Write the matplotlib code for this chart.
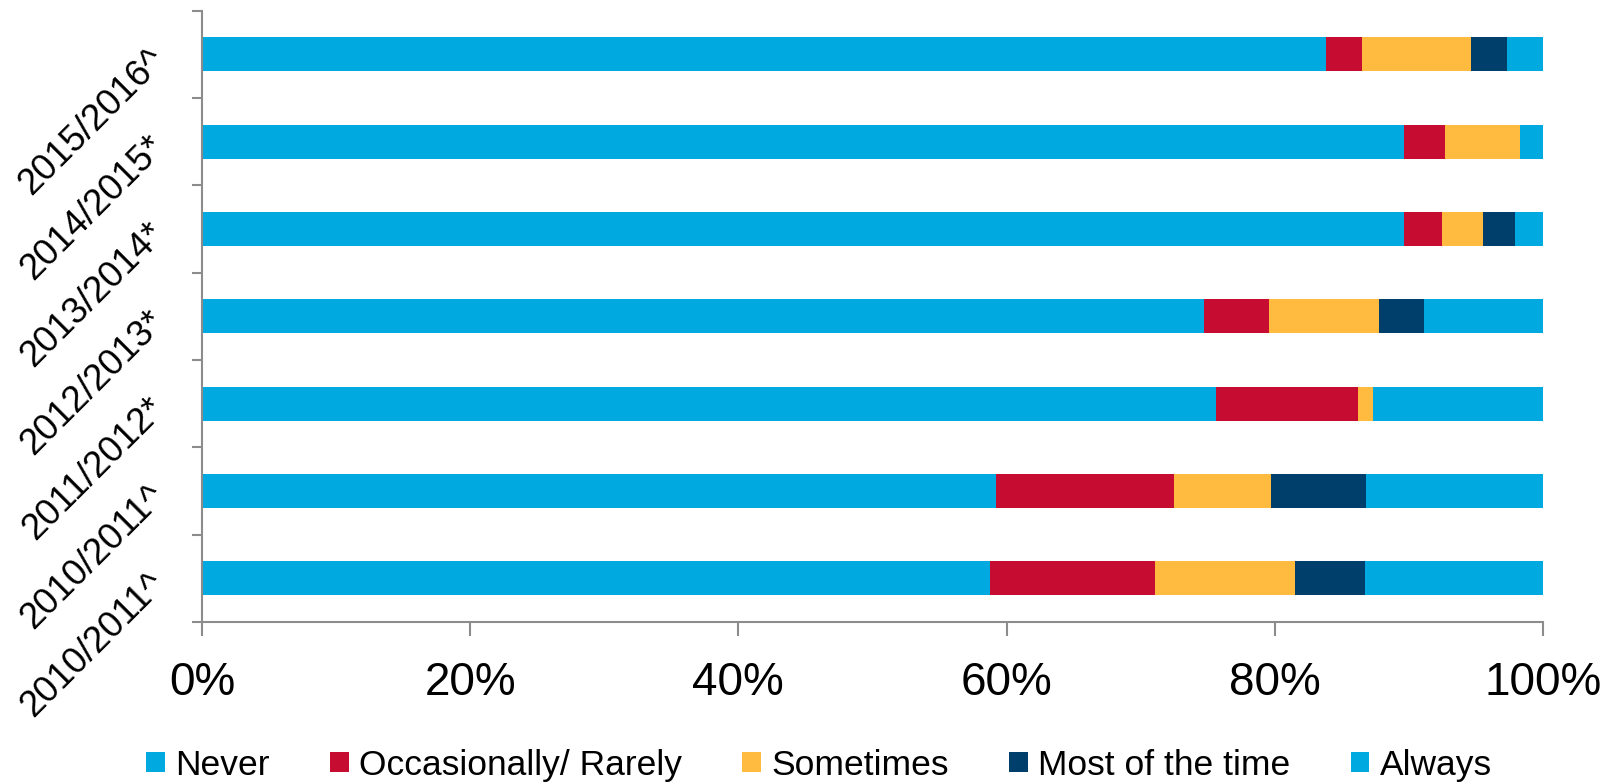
import matplotlib
matplotlib.use("Agg")
import matplotlib.pyplot as plt
from matplotlib.patches import Patch
import numpy as np

plt.rcParams['font.family'] = ['Liberation Sans', 'DejaVu Sans']

categories = ["2010/2011^", "2010/2011^", "2011/2012*", "2012/2013*",
              "2013/2014*", "2014/2015*", "2015/2016^"]
series_names = ["Never", "Occasionally/ Rarely", "Sometimes", "Most of the time", "Always"]
never      = [58.8, 59.2, 75.6, 74.7, 89.6, 89.6, 83.8]
occasional = [12.3, 13.3, 10.6, 4.9, 2.9, 3.1, 2.7]
sometimes  = [10.4, 7.2, 1.1, 8.2, 3.0, 5.6, 8.1]
most       = [5.2, 7.1, 0.0, 3.3, 2.4, 0.0, 2.7]
always     = [13.3, 13.2, 12.7, 8.9, 2.1, 1.7, 2.7]
xtick_values = [0, 20, 40, 60, 80, 100]
xtick_labels = ["0%", "20%", "40%", "60%", "80%", "100%"]

colors = ["#00A9E0", "#C60C30", "#FFBB40", "#003E6B", "#00A9E0"]

fig = plt.figure(figsize=(16.22, 7.84), dpi=100)
ax = fig.add_axes([0.1245, 0.2066, 0.8268, 0.7798])

y = np.arange(len(categories))
left = np.zeros(len(categories))
handles = []
for name, vals, c in zip(series_names, [never, occasional, sometimes, most, always], colors):
    vals = np.array(vals)
    ax.barh(y, vals, left=left, height=0.39, color=c, edgecolor='none')
    left += vals
    handles.append(Patch(facecolor=c, edgecolor='none', label=name))

ax.set_xlim(0, 100)
ax.set_ylim(-0.5, len(categories) - 0.5)

ax.set_xticks(xtick_values)
ax.set_xticklabels(xtick_labels, fontsize=33)
ax.set_yticks(np.arange(-0.5, len(categories)))
ax.set_yticklabels([])
ax.set_yticks(y, minor=True)
ax.set_yticklabels(categories, minor=True, fontsize=26.5, rotation=45,
                   ha='right', va='center', rotation_mode='anchor')

gray = "#8C8C8C"
for s in ['top', 'right']:
    ax.spines[s].set_visible(False)
for s in ['left', 'bottom']:
    ax.spines[s].set_color(gray)
    ax.spines[s].set_linewidth(1.5)

ax.tick_params(axis='x', which='major', length=10, width=1.5, color=gray, pad=18)
ax.tick_params(axis='y', which='major', length=7.5, width=1.5, color=gray)
ax.tick_params(axis='y', which='minor', length=0, pad=31)

fig.legend(handles=handles, loc='center', bbox_to_anchor=(0.505, 0.0242),
           ncol=5, frameon=False, fontsize=25.5, handlelength=0.52, handleheight=0.52,
           handletextpad=0.3, columnspacing=1.7, borderpad=0)

fig.savefig("out.png", dpi=100)
